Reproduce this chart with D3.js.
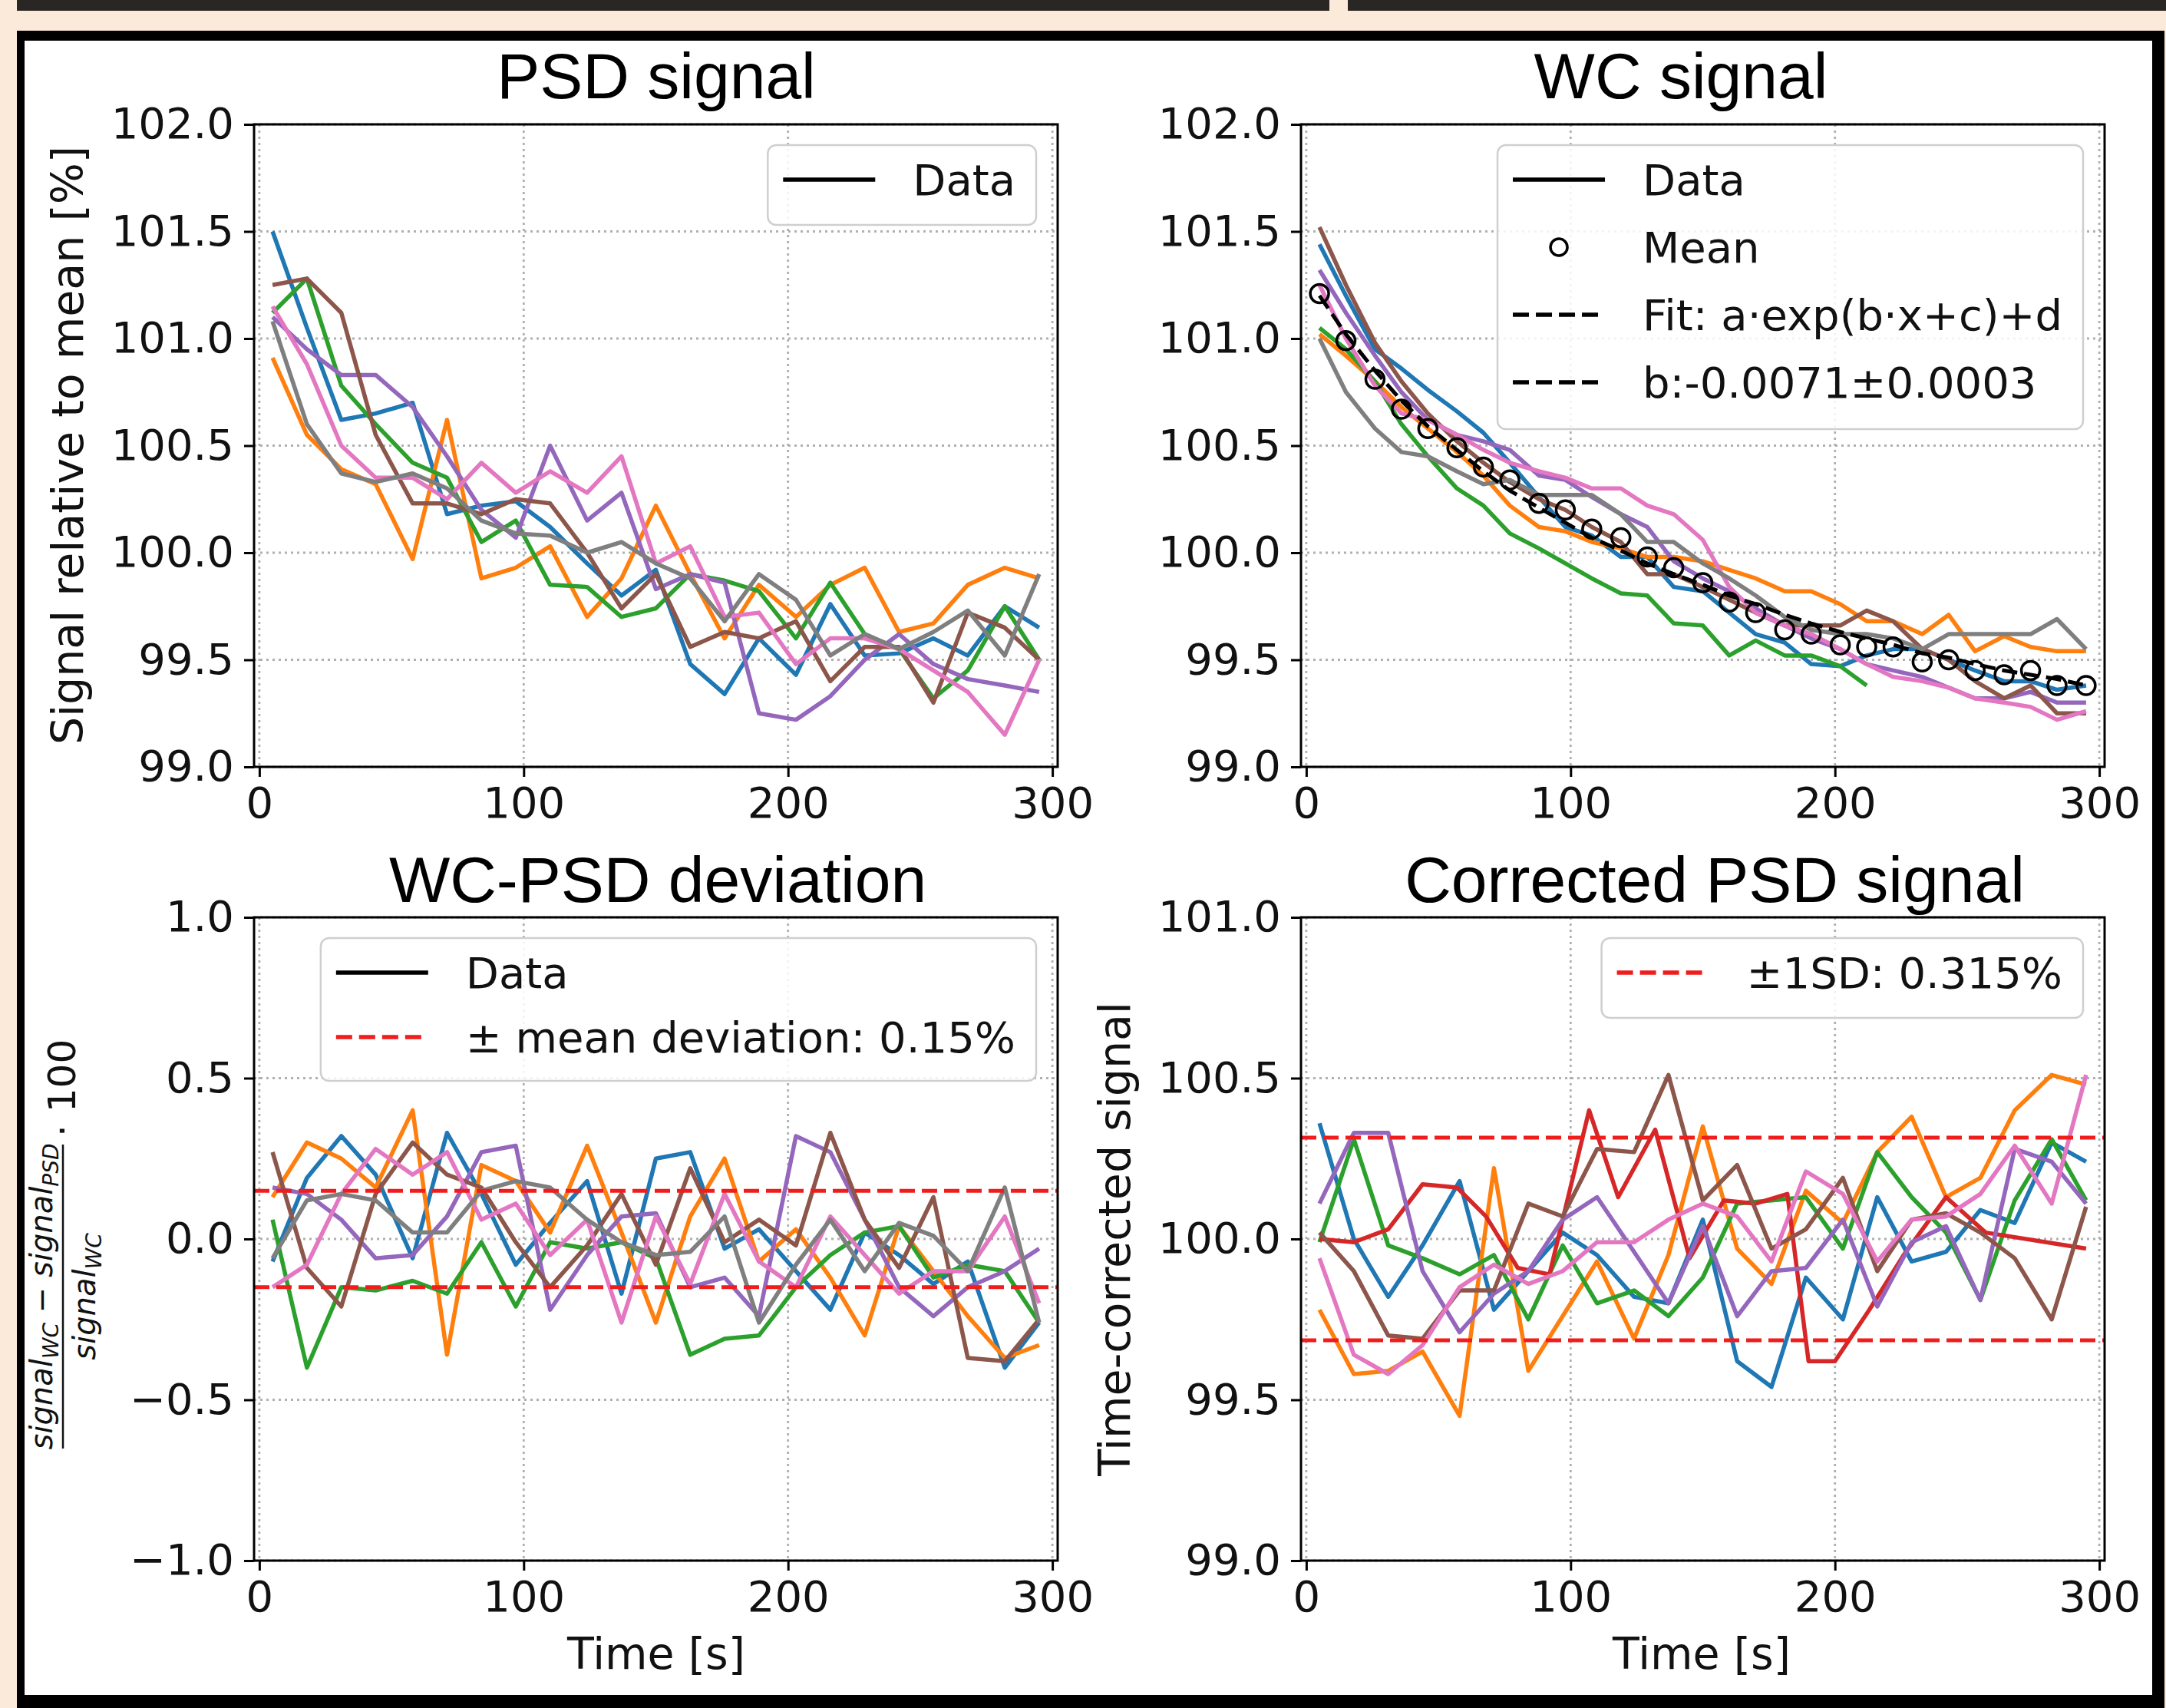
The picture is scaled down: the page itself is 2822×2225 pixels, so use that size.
<!DOCTYPE html>
<html>
<head>
<meta charset="utf-8">
<script src="https://cdn.jsdelivr.net/npm/d3@7"></script>
<style>
    html, body { margin: 0; padding: 0; background: #fbe9da; }
    svg { display: block; }
</style>
</head>
<body>
<script>
// ---- data ----
const tPSD = [5, 18, 31, 44, 58, 71, 84, 97, 110, 124, 137, 150, 163, 176, 189, 203, 216, 229, 242, 255, 268, 282, 295];
const tWC = [5, 15, 26, 36, 46, 57, 67, 77, 88, 98, 108, 119, 129, 139, 150, 160, 170, 181, 191, 202, 212, 222, 233, 243, 253, 264, 274, 284, 295];
const tRed = [5, 18, 31, 44, 57, 68, 80, 92, 107, 118, 132, 145, 158, 170, 182, 190, 200, 213, 226, 242, 257, 295];

// PSD signal
const psdBlue = [101.50, 101.05, 100.62, 100.65, 100.70, 100.18, 100.22, 100.24, 100.12, 99.95, 99.80, 99.92, 99.48, 99.34, 99.60, 99.43, 99.76, 99.52, 99.53, 99.60, 99.52, 99.75, 99.65];
const psdOrange = [100.91, 100.55, 100.39, 100.32, 99.97, 100.62, 99.88, 99.93, 100.03, 99.70, 99.88, 100.22, 99.90, 99.60, 99.85, 99.70, 99.85, 99.93, 99.63, 99.67, 99.85, 99.93, 99.88];
const psdGreen = [101.12, 101.28, 100.78, 100.60, 100.42, 100.35, 100.05, 100.15, 99.85, 99.84, 99.70, 99.74, 99.90, 99.87, 99.82, 99.60, 99.86, 99.62, 99.55, 99.32, 99.45, 99.75, 99.50];
const psdPurple = [101.10, 100.95, 100.83, 100.83, 100.68, 100.45, 100.20, 100.07, 100.50, 100.15, 100.28, 99.83, 99.90, 99.86, 99.25, 99.22, 99.33, 99.50, 99.62, 99.48, 99.41, 99.38, 99.35];
const psdBrown = [101.25, 101.28, 101.12, 100.55, 100.23, 100.23, 100.18, 100.25, 100.23, 100.00, 99.74, 99.90, 99.56, 99.63, 99.60, 99.68, 99.40, 99.56, 99.56, 99.30, 99.72, 99.65, 99.50];
const psdPink = [101.15, 100.88, 100.50, 100.35, 100.35, 100.25, 100.42, 100.28, 100.38, 100.28, 100.45, 99.95, 100.03, 99.70, 99.72, 99.48, 99.60, 99.60, 99.55, 99.45, 99.35, 99.15, 99.50];
const psdGray = [101.08, 100.60, 100.37, 100.33, 100.37, 100.30, 100.15, 100.09, 100.08, 100.00, 100.05, 99.95, 99.88, 99.68, 99.90, 99.78, 99.52, 99.62, 99.55, 99.63, 99.73, 99.52, 99.90];

// WC signal
const wcBlue = [101.44, 101.20, 100.95, 100.86, 100.76, 100.66, 100.56, 100.42, 100.26, 100.12, 100.08, 99.98, 99.98, 99.84, 99.82, 99.72, 99.62, 99.58, 99.48, 99.47, 99.52, 99.55, 99.55, 99.50, 99.45, 99.40, 99.40, 99.36, 99.38];
const wcOrange = [101.02, 100.92, 100.80, 100.68, 100.58, 100.47, 100.36, 100.22, 100.12, 100.10, 100.05, 100.02, 99.98, 99.98, 99.96, 99.92, 99.88, 99.82, 99.82, 99.76, 99.68, 99.68, 99.62, 99.71, 99.54, 99.61, 99.56, 99.54, 99.54];
const wcGreen = [101.05, 100.95, 100.80, 100.60, 100.45, 100.30, 100.22, 100.09, 100.02, 99.95, 99.88, 99.81, 99.80, 99.67, 99.66, 99.52, 99.59, 99.52, 99.52, 99.47, 99.38];
const wcPurple = [101.32, 101.12, 100.92, 100.75, 100.62, 100.55, 100.52, 100.48, 100.36, 100.34, 100.26, 100.18, 100.12, 99.96, 99.88, 99.82, 99.74, 99.66, 99.60, 99.55, 99.48, 99.45, 99.42, 99.37, 99.32, 99.32, 99.35, 99.30, 99.30];
const wcBrown = [101.52, 101.25, 100.98, 100.80, 100.65, 100.52, 100.42, 100.33, 100.25, 100.20, 100.12, 100.05, 99.90, 99.90, 99.84, 99.78, 99.72, 99.66, 99.66, 99.66, 99.73, 99.68, 99.55, 99.50, 99.40, 99.32, 99.38, 99.25, 99.25];
const wcPink = [101.25, 101.00, 100.78, 100.65, 100.62, 100.55, 100.48, 100.42, 100.38, 100.35, 100.30, 100.30, 100.22, 100.18, 100.06, 99.84, 99.72, 99.66, 99.62, 99.55, 99.48, 99.42, 99.40, 99.37, 99.32, 99.30, 99.28, 99.22, 99.26];
const wcGray = [101.00, 100.75, 100.58, 100.47, 100.45, 100.38, 100.32, 100.34, 100.27, 100.27, 100.27, 100.18, 100.05, 100.05, 99.95, 99.88, 99.80, 99.70, 99.64, 99.62, 99.62, 99.60, 99.55, 99.62, 99.62, 99.62, 99.62, 99.69, 99.55];
const wcMean = [101.21, 100.99, 100.81, 100.67, 100.58, 100.49, 100.40, 100.34, 100.23, 100.20, 100.11, 100.07, 99.98, 99.93, 99.86, 99.77, 99.72, 99.64, 99.62, 99.57, 99.56, 99.56, 99.49, 99.50, 99.45, 99.43, 99.45, 99.38, 99.38];
const wcFit = [101.20, 101.02, 100.85, 100.71, 100.59, 100.48, 100.38, 100.29, 100.21, 100.14, 100.07, 100.01, 99.95, 99.90, 99.85, 99.80, 99.76, 99.71, 99.67, 99.63, 99.60, 99.57, 99.53, 99.51, 99.48, 99.45, 99.43, 99.41, 99.38];

// WC-PSD deviation
const devBlue = [-0.07, 0.19, 0.32, 0.20, -0.06, 0.33, 0.14, -0.08, 0.05, 0.18, -0.17, 0.25, 0.27, -0.03, 0.03, -0.10, -0.22, 0.02, -0.05, -0.14, -0.07, -0.40, -0.26];
const devOrange = [0.13, 0.30, 0.25, 0.16, 0.40, -0.36, 0.23, 0.18, 0.02, 0.29, 0.02, -0.26, 0.07, 0.25, -0.07, 0.03, -0.12, -0.30, 0.04, -0.10, -0.24, -0.37, -0.33];
const devGreen = [0.06, -0.40, -0.15, -0.16, -0.13, -0.17, -0.01, -0.21, -0.01, -0.03, -0.01, -0.06, -0.36, -0.31, -0.30, -0.15, -0.05, 0.02, 0.04, -0.12, -0.08, -0.10, -0.26];
const devPurple = [0.16, 0.14, 0.06, -0.06, -0.05, 0.07, 0.27, 0.29, -0.22, -0.05, 0.07, 0.08, -0.15, -0.12, -0.24, 0.32, 0.27, 0.06, -0.15, -0.24, -0.15, -0.10, -0.03];
const devBrown = [0.27, -0.09, -0.21, 0.14, 0.30, 0.20, 0.16, -0.01, -0.15, -0.02, 0.14, -0.08, 0.22, -0.01, 0.06, -0.02, 0.33, 0.06, -0.09, 0.13, -0.37, -0.38, -0.25];
const devPink = [-0.15, -0.08, 0.14, 0.28, 0.20, 0.27, 0.06, 0.11, -0.05, 0.06, -0.26, 0.07, -0.14, 0.14, -0.07, -0.15, 0.07, -0.05, -0.17, -0.10, -0.10, 0.07, -0.20];
const devGray = [-0.06, 0.12, 0.14, 0.12, 0.02, 0.02, 0.15, 0.18, 0.16, 0.06, -0.01, -0.05, -0.04, 0.07, -0.26, -0.08, 0.06, -0.10, 0.05, 0.01, -0.10, 0.16, -0.26];
const meanDeviation = 0.15;

// Corrected PSD signal
const corBlue = [100.36, 100.00, 99.82, 99.98, 100.18, 99.78, 99.90, 100.02, 99.95, 99.82, 99.80, 100.06, 99.62, 99.54, 99.88, 99.75, 100.13, 99.93, 99.96, 100.09, 100.05, 100.30, 100.24];
const corOrange = [99.78, 99.58, 99.59, 99.65, 99.45, 100.22, 99.59, 99.76, 99.93, 99.69, 99.95, 100.35, 99.97, 99.86, 100.15, 100.05, 100.27, 100.38, 100.13, 100.19, 100.40, 100.51, 100.48];
const corGreen = [99.99, 100.31, 99.98, 99.94, 99.89, 99.95, 99.75, 99.98, 99.80, 99.84, 99.76, 99.88, 100.11, 100.12, 100.13, 99.97, 100.27, 100.13, 100.02, 99.81, 100.12, 100.31, 100.12];
const corRed = [100.00, 99.99, 100.03, 100.17, 100.16, 100.07, 99.91, 99.89, 100.40, 100.13, 100.34, 99.94, 100.12, 100.11, 100.14, 99.62, 99.62, 99.78, 99.95, 100.13, 100.02, 99.97];
const corPurple = [100.11, 100.33, 100.33, 99.90, 99.71, 99.83, 99.90, 100.06, 100.13, 99.96, 99.80, 100.04, 99.76, 99.90, 99.91, 100.06, 99.79, 99.99, 100.04, 99.81, 100.28, 100.24, 100.11];
const corBrown = [100.02, 99.90, 99.70, 99.69, 99.84, 99.84, 100.11, 100.07, 100.28, 100.27, 100.51, 100.12, 100.23, 99.97, 100.03, 100.19, 99.90, 100.06, 100.08, 100.02, 99.94, 99.75, 100.10];
const corPink = [99.94, 99.64, 99.58, 99.67, 99.85, 99.92, 99.86, 99.90, 99.99, 99.99, 100.06, 100.11, 100.07, 99.93, 100.21, 100.14, 99.93, 100.06, 100.07, 100.14, 100.29, 100.11, 100.51];
const corCentre = 100;
const corSD = 0.315;

const xTicks = [0, 100, 200, 300];
const signalTicks = [99.0, 99.5, 100.0, 100.5, 101.0, 101.5, 102.0];
const devTicks = [-1.0, -0.5, 0.0, 0.5, 1.0];
const corTicks = [99.0, 99.5, 100.0, 100.5, 101.0];

const tab = {
    blue: "#1f77b4", orange: "#ff7f0e", green: "#2ca02c", red: "#d62728",
    purple: "#9467bd", brown: "#8c564b", pink: "#e377c2", gray: "#7f7f7f",
};
const dashRed = "#f01d1d";

const W = 2822;
const H = 2225;
const svg = d3.select("body").append("svg").attr("width", W).attr("height", H);

// page background, dark strip and figure frame
svg.append("rect").attr("width", W).attr("height", H).attr("fill", "#fbe9da");
svg.append("rect").attr("x", 22).attr("y", 0).attr("width", 1710).attr("height", 14).attr("fill", "#2a2624");
svg.append("rect").attr("x", 1756).attr("y", 0).attr("width", W - 1756).attr("height", 14).attr("fill", "#2a2624");
svg.append("rect").attr("x", 22).attr("y", 40).attr("width", 2798).attr("height", H - 40).attr("fill", "#000");
svg.append("rect").attr("x", 32).attr("y", 53).attr("width", 2772).attr("height", 2155).attr("fill", "#fff");

const tickFont = "DejaVu Sans";
let clipId = 0;

function makePanel(box, yDomain, yTicks) {
    const x = d3.scaleLinear().domain([-2, 302]).range([box.left, box.right]);
    const y = d3.scaleLinear().domain(yDomain).range([box.bottom, box.top]);
    const g = svg.append("g");

    // dotted grid
    const grid = g.append("g").attr("stroke", "#b0b0b0").attr("stroke-width", 2.8).attr("stroke-dasharray", "3,5");
    grid.selectAll(".gx").data(xTicks).join("line")
        .attr("x1", (d) => x(d)).attr("x2", (d) => x(d))
        .attr("y1", box.top).attr("y2", box.bottom);
    grid.selectAll(".gy").data(yTicks).join("line")
        .attr("x1", box.left).attr("x2", box.right)
        .attr("y1", (d) => y(d)).attr("y2", (d) => y(d));

    const id = "clip" + clipId++;
    g.append("clipPath").attr("id", id).append("rect")
        .attr("x", box.left).attr("y", box.top)
        .attr("width", box.right - box.left).attr("height", box.bottom - box.top);
    const plot = g.append("g").attr("clip-path", `url(#${id})`);

    return { g, plot, x, y, box, yTicks };
}

function finishAxes(p) {
    const { g, x, y, box, yTicks } = p;
    g.append("rect")
        .attr("x", box.left).attr("y", box.top)
        .attr("width", box.right - box.left).attr("height", box.bottom - box.top)
        .attr("fill", "none").attr("stroke", "#000").attr("stroke-width", 3);

    const xa = g.append("g").attr("transform", `translate(0,${box.bottom})`)
        .call(d3.axisBottom(x).tickValues(xTicks).tickFormat(d3.format("d")).tickSize(13).tickPadding(13).tickSizeOuter(0));
    const ya = g.append("g").attr("transform", `translate(${box.left},0)`)
        .call(d3.axisLeft(y).tickValues(yTicks).tickFormat(d3.format(".1f")).tickSize(13).tickPadding(13).tickSizeOuter(0));
    [xa, ya].forEach((a) => {
        a.select(".domain").remove();
        a.attr("font-family", tickFont).attr("font-size", 56);
        a.selectAll("line").attr("stroke", "#000").attr("stroke-width", 3);
        a.selectAll("text").attr("fill", "#111");
    });
}

function drawSeries(p, t, values, colour) {
    const line = d3.line().x((d, i) => p.x(t[i])).y((d) => p.y(d));
    p.plot.append("path").datum(values)
        .attr("d", line).attr("fill", "none")
        .attr("stroke", colour).attr("stroke-width", 5.5)
        .attr("stroke-linejoin", "round");
}

function drawHLine(p, v, colour) {
    p.plot.append("line")
        .attr("x1", p.box.left).attr("x2", p.box.right)
        .attr("y1", p.y(v)).attr("y2", p.y(v))
        .attr("stroke", colour).attr("stroke-width", 5)
        .attr("stroke-dasharray", "20,9");
}

function drawLegend(p, items, rowH) {
    const lg = p.g.append("g");
    const textX = 189;
    const labels = items.map((it, i) =>
        lg.append("text").text(it.label)
            .attr("font-family", tickFont).attr("font-size", 56).attr("fill", "#111")
            .attr("y", 65 + i * rowH)
    );
    const tw = d3.max(labels, (l) => l.node().getComputedTextLength());
    const bw = textX + tw + 27;
    const bh = 18 + items.length * rowH;
    const left = p.box.right - 28 - bw;
    const top = p.box.top + 27;
    lg.attr("transform", `translate(${left},${top})`);
    labels.forEach((l) => l.attr("x", textX));
    lg.insert("rect", ":first-child")
        .attr("width", bw).attr("height", bh).attr("rx", 11)
        .attr("fill", "#fff").attr("fill-opacity", 0.85)
        .attr("stroke", "#cfcfcf").attr("stroke-width", 2.5);
    items.forEach((it, i) => {
        const cy = 65 + i * rowH - 20;
        if (it.kind === "marker") {
            lg.append("circle").attr("cx", 80).attr("cy", cy).attr("r", 11)
                .attr("fill", "none").attr("stroke", it.colour).attr("stroke-width", 3.5);
        } else {
            lg.append("line").attr("x1", 20).attr("x2", 140).attr("y1", cy).attr("y2", cy)
                .attr("stroke", it.colour).attr("stroke-width", 5.5)
                .attr("stroke-dasharray", it.kind === "dash" ? "21,9" : null);
        }
    });
}

function title(text, cx, baseline) {
    svg.append("text").text(text)
        .attr("x", cx).attr("y", baseline).attr("text-anchor", "middle")
        .attr("font-family", "Liberation Sans").attr("font-size", 84).attr("fill", "#000");
}

function axisLabel(text, x, y, rotate) {
    svg.append("text").text(text)
        .attr("transform", `translate(${x},${y})` + (rotate ? " rotate(-90)" : ""))
        .attr("text-anchor", "middle")
        .attr("font-family", tickFont).attr("font-size", 57).attr("fill", "#111");
}

// ---- panel 1: PSD signal ----
const p1 = makePanel({ left: 331, right: 1378, top: 162, bottom: 999 }, [99, 102], signalTicks);
[[psdBlue, "blue"], [psdOrange, "orange"], [psdGreen, "green"], [psdPurple, "purple"],
 [psdBrown, "brown"], [psdPink, "pink"], [psdGray, "gray"]].forEach(([v, c]) => drawSeries(p1, tPSD, v, tab[c]));
finishAxes(p1);
drawLegend(p1, [{ kind: "line", colour: "#000", label: "Data" }], 86);
title("PSD signal", 855, 128);
axisLabel("Signal relative to mean [%]", 108, 580, true);

// ---- panel 2: WC signal ----
const p2 = makePanel({ left: 1695, right: 2742, top: 162, bottom: 999 }, [99, 102], signalTicks);
[[wcBlue, "blue"], [wcOrange, "orange"], [wcGreen, "green"], [wcPurple, "purple"],
 [wcBrown, "brown"], [wcPink, "pink"], [wcGray, "gray"]].forEach(([v, c]) => drawSeries(p2, tWC.slice(0, v.length), v, tab[c]));
p2.plot.append("path").datum(wcFit)
    .attr("d", d3.line().x((d, i) => p2.x(tWC[i])).y((d) => p2.y(d)))
    .attr("fill", "none").attr("stroke", "#000").attr("stroke-width", 5)
    .attr("stroke-dasharray", "20,9");
p2.plot.selectAll(".mean").data(wcMean).join("circle")
    .attr("cx", (d, i) => p2.x(tWC[i])).attr("cy", (d) => p2.y(d)).attr("r", 12)
    .attr("fill", "none").attr("stroke", "#000").attr("stroke-width", 3.5);
finishAxes(p2);
drawLegend(p2, [
    { kind: "line", colour: "#000", label: "Data" },
    { kind: "marker", colour: "#000", label: "Mean" },
    { kind: "dash", colour: "#000", label: "Fit: a·exp(b·x+c)+d" },
    { kind: "dash", colour: "#000", label: "b:-0.0071±0.0003" },
], 88);
title("WC signal", 2190, 128);

// ---- panel 3: WC-PSD deviation ----
const p3 = makePanel({ left: 331, right: 1378, top: 1195, bottom: 2033 }, [-1, 1], devTicks);
[[devBlue, "blue"], [devOrange, "orange"], [devGreen, "green"], [devPurple, "purple"],
 [devBrown, "brown"], [devPink, "pink"], [devGray, "gray"]].forEach(([v, c]) => drawSeries(p3, tPSD, v, tab[c]));
drawHLine(p3, meanDeviation, dashRed);
drawHLine(p3, -meanDeviation, dashRed);
finishAxes(p3);
drawLegend(p3, [
    { kind: "line", colour: "#000", label: "Data" },
    { kind: "dash", colour: dashRed, label: "± mean deviation: 0.15%" },
], 84);
title("WC-PSD deviation", 857, 1175);
axisLabel("Time [s]", 855, 2174, false);

// fraction label of panel 3
const frac = svg.append("g")
    .attr("transform", "translate(82,1689) rotate(-90)")
    .attr("font-family", tickFont).attr("fill", "#111");
frac.append("line").attr("x1", -198).attr("x2", 198).attr("y1", 0).attr("y2", 0)
    .attr("stroke", "#111").attr("stroke-width", 2.5);
const num = frac.append("text").attr("x", 0).attr("y", -14).attr("text-anchor", "middle").attr("font-size", 40);
num.append("tspan").attr("font-style", "italic").text("signal");
num.append("tspan").attr("font-style", "italic").attr("font-size", 28).attr("dy", 8).text("WC");
num.append("tspan").attr("dy", -8).text(" − ");
num.append("tspan").attr("font-style", "italic").text("signal");
num.append("tspan").attr("font-style", "italic").attr("font-size", 28).attr("dy", 8).text("PSD");
const den = frac.append("text").attr("x", 0).attr("y", 42).attr("text-anchor", "middle").attr("font-size", 40);
den.append("tspan").attr("font-style", "italic").text("signal");
den.append("tspan").attr("font-style", "italic").attr("font-size", 28).attr("dy", 8).text("WC");
frac.append("text").attr("x", 208).attr("y", 16).attr("font-size", 50).text("· 100");

// ---- panel 4: Corrected PSD signal ----
const p4 = makePanel({ left: 1695, right: 2742, top: 1195, bottom: 2033 }, [99, 101], corTicks);
[[corBlue, "blue"], [corOrange, "orange"], [corGreen, "green"]].forEach(([v, c]) => drawSeries(p4, tPSD, v, tab[c]));
drawSeries(p4, tRed, corRed, tab.red);
[[corPurple, "purple"], [corBrown, "brown"], [corPink, "pink"]].forEach(([v, c]) => drawSeries(p4, tPSD, v, tab[c]));
drawHLine(p4, corCentre + corSD, dashRed);
drawHLine(p4, corCentre - corSD, dashRed);
finishAxes(p4);
drawLegend(p4, [{ kind: "dash", colour: dashRed, label: "±1SD: 0.315%" }], 86);
title("Corrected PSD signal", 2234, 1175);
axisLabel("Time [s]", 2217, 2174, false);
axisLabel("Time-corrected signal", 1472, 1614, true);
</script>
</body>
</html>
